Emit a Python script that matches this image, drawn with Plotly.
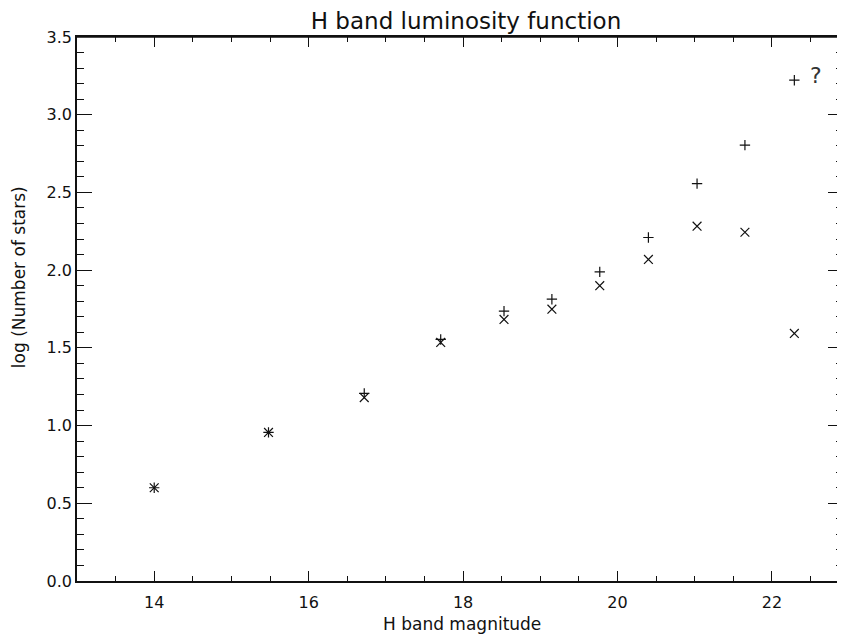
import plotly.graph_objects as go

# ---- data ----
h_mag = [14.0, 15.48, 16.72, 17.71, 18.53, 19.15, 19.77, 20.40, 21.03, 21.65, 22.29]
log_n_plus = [0.60, 0.956, 1.207, 1.554, 1.736, 1.813, 1.989, 2.21, 2.557, 2.804, 3.222]
log_n_cross = [0.60, 0.956, 1.18, 1.535, 1.683, 1.749, 1.90, 2.069, 2.283, 2.244, 1.593]
x_ticks = [14, 16, 18, 20, 22]
y_ticks = [0.0, 0.5, 1.0, 1.5, 2.0, 2.5, 3.0, 3.5]
y_tick_text = ["0.0", "0.5", "1.0", "1.5", "2.0", "2.5", "3.0", "3.5"]
question_mark = {"x": 22.57, "y": 3.25, "text": "?"}

FONT = "DejaVu Sans"
INK = "#111111"
PAGE_OFFSET = 8  # default body margin of the html page

W, H = 845 - PAGE_OFFSET, 636 - PAGE_OFFSET
PLOT_L, PLOT_T, PLOT_B = 77, 37, 581   # positions in the screenshot
PLOT_W, PLOT_H = 768, PLOT_B - PLOT_T

fig = go.Figure()
fig.add_trace(go.Scatter(
    x=h_mag, y=log_n_plus, mode="markers",
    marker=dict(symbol="cross-thin", size=7.4, line=dict(color=INK, width=1.2)),
    showlegend=False, cliponaxis=False))
fig.add_trace(go.Scatter(
    x=h_mag, y=log_n_cross, mode="markers",
    marker=dict(symbol="x-thin", size=8.8, line=dict(color=INK, width=1.2)),
    showlegend=False, cliponaxis=False))

fig.add_annotation(x=question_mark["x"], y=question_mark["y"], text=question_mark["text"],
                   showarrow=False, font=dict(family=FONT, size=22, color="#333333"),
                   xanchor="center", yanchor="middle")

# axis titles as annotations
fig.add_annotation(xref="paper", yref="paper", x=(463 - PLOT_L) / PLOT_W, y=-(43 / PLOT_H),
                   text="H band magnitude", showarrow=False,
                   font=dict(family=FONT, size=17, color=INK),
                   xanchor="center", yanchor="middle")
fig.add_annotation(xref="paper", yref="paper", x=(19 - PLOT_L) / PLOT_W, y=(PLOT_B - 277) / PLOT_H,
                   text="log (Number of stars)", showarrow=False, textangle=-90,
                   font=dict(family=FONT, size=17, color=INK),
                   xanchor="center", yanchor="middle")

# top axis line (right axis lies outside the cropped picture)
fig.add_shape(type="line", xref="paper", yref="paper", x0=0, x1=1, y0=1, y1=1,
              line=dict(color=INK, width=1.5))

fig.update_layout(
    width=W, height=H,
    margin=dict(l=PLOT_L - PAGE_OFFSET, r=0, t=PLOT_T - PAGE_OFFSET,
                b=H - (PLOT_B - PAGE_OFFSET)),
    paper_bgcolor="white", plot_bgcolor="white",
    title=dict(text="H band luminosity function", x=(467 - PLOT_L) / PLOT_W, xref="paper",
               xanchor="center", y=1 - (21 - PAGE_OFFSET) / H, yref="container", yanchor="middle",
               font=dict(family=FONT, size=23, color=INK)),
    font=dict(family=FONT, color=INK),
)
fig.update_xaxes(
    range=[13, 22.92], tickvals=x_ticks, ticktext=[str(v) for v in x_ticks],
    showgrid=False, zeroline=False, showline=True, linecolor=INK, linewidth=1.5,
    ticks="inside", ticklen=10, tickwidth=1.2, tickcolor=INK, mirror="ticks",
    ticklabelstandoff=6,
    tickfont=dict(family=FONT, size=16, color=INK),
    minor=dict(dtick=0.5, tick0=0, ticks="inside", ticklen=5, tickwidth=1.2, tickcolor=INK, showgrid=False),
)
fig.update_yaxes(
    range=[0, 3.5], tickvals=y_ticks, ticktext=y_tick_text,
    showgrid=False, zeroline=False, showline=True, linecolor=INK, linewidth=1.5,
    ticks="inside", ticklen=15, tickwidth=1.2, tickcolor=INK, mirror="ticks",
    tickfont=dict(family=FONT, size=16, color=INK),
    minor=dict(dtick=0.1, tick0=0, ticks="inside", ticklen=7, tickwidth=1.2, tickcolor=INK, showgrid=False),
)

fig.write_html("out.html")
